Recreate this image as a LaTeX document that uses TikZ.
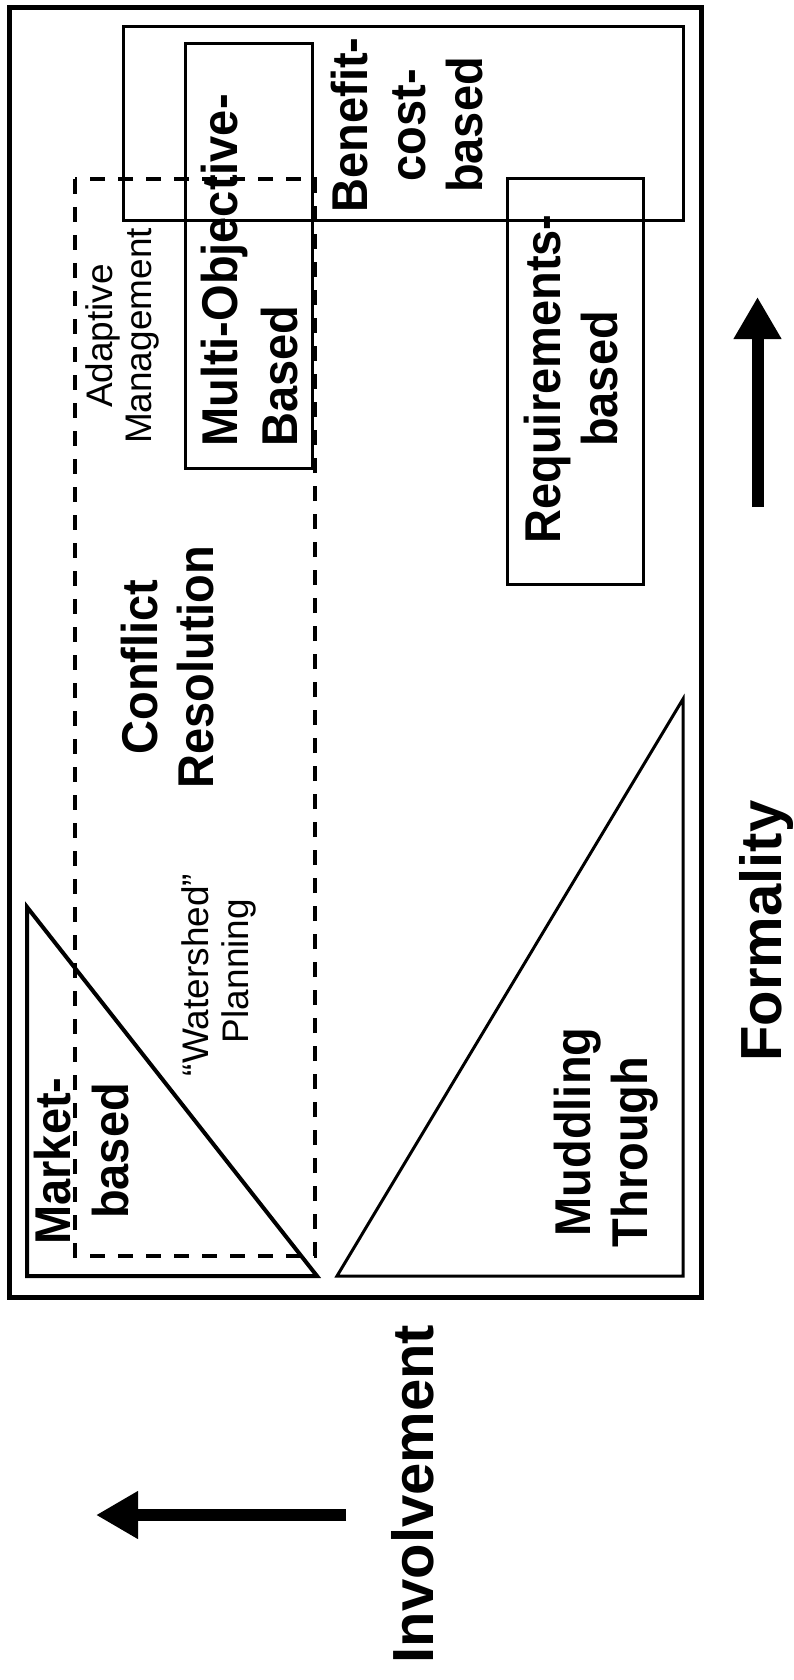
\documentclass[tikz,border=0pt]{standalone}
\usepackage{fontspec}
\setmainfont{Liberation Sans}
\usetikzlibrary{arrows.meta}
\begin{document}
\begin{tikzpicture}[x=1pt,y=-1pt,
  frame/.style={draw, line width=5pt},
  box/.style={draw, line width=3pt},
  dashbox/.style={draw, line width=4pt, dash pattern=on 15pt off 13pt},
  tri/.style={draw, line width=4pt, line join=miter},
  lbl/.style={rotate=90, yscale=1.07, inner sep=0pt, font=\bfseries\fontsize{47}{56}\selectfont},
  small/.style={rotate=90, inner sep=0pt, font=\fontsize{37}{40}\selectfont},
  axis/.style={rotate=90, inner sep=0pt, font=\bfseries\fontsize{58}{64}\selectfont},
  bigarrow/.style={line width=12pt, -{Triangle[length=42pt,width=45pt]}}]
\useasboundingbox (0,0) rectangle (793,1680);
% outer frame
\draw[frame] (9,8) rectangle (701,1297);
% boxes
\draw[box] (123,27) rectangle (683,221);
\draw[box] (185,44) rectangle (312,468);
\draw[box] (507,179) rectangle (643,584);
\draw[dashbox] (75,179) rectangle (315,1256);
% triangles
\draw[tri] (27,907) -- (27,1276) -- (317,1276) -- cycle;
\draw[tri, line width=3pt] (683,699) -- (683,1276) -- (337,1276) -- cycle;
% labels
\node[lbl, anchor=base] (ben1) at (367,125) {Benefit-};
\node[lbl, anchor=base] (ben2) at (425,125) {cost-};
\node[lbl, anchor=base] (ben3) at (482,125) {based};
\node[lbl, anchor=base west] (mo1) at (237,447) {Multi-Objective-};
\node[lbl, anchor=base west] (mo2) at (297,447) {Based};
\node[lbl, anchor=base] (rq1) at (560,379) {Requirements-};
\node[lbl, anchor=base] (rq2) at (617,379) {based};
\node[small, anchor=base] (am1) at (112,336) {Adaptive};
\node[small, anchor=base] (am2) at (151,336) {Management};
\node[lbl, anchor=base] (cr1) at (157,667) {Conflict};
\node[lbl, anchor=base] (cr2) at (213,667) {Resolution};
\node[small, anchor=base] (ws1) at (208,975) {“Watershed”};
\node[small, anchor=base] (ws2) at (248,971) {Planning};
\node[lbl, anchor=base] (mk1) at (70,1161) {Market-};
\node[lbl, anchor=base] (mk2) at (128,1151) {based};
\node[lbl, anchor=base] (md1) at (590,1132) {Muddling};
\node[lbl, anchor=base] (md2) at (647,1152) {Through};
\node[axis, anchor=base] (form) at (781,931) {Formality};
\node[axis, anchor=base] (inv) at (433,1494) {Involvement};
% arrows
\coordinate (fa1) at (757.5,507);
\coordinate (fa2) at (757.5,297);
\coordinate (ia1) at (346,1515);
\coordinate (ia2) at (96,1515);
\draw[bigarrow] (fa1) -- (fa2);
\draw[bigarrow] (ia1) -- (ia2);
\end{tikzpicture}
\end{document}
